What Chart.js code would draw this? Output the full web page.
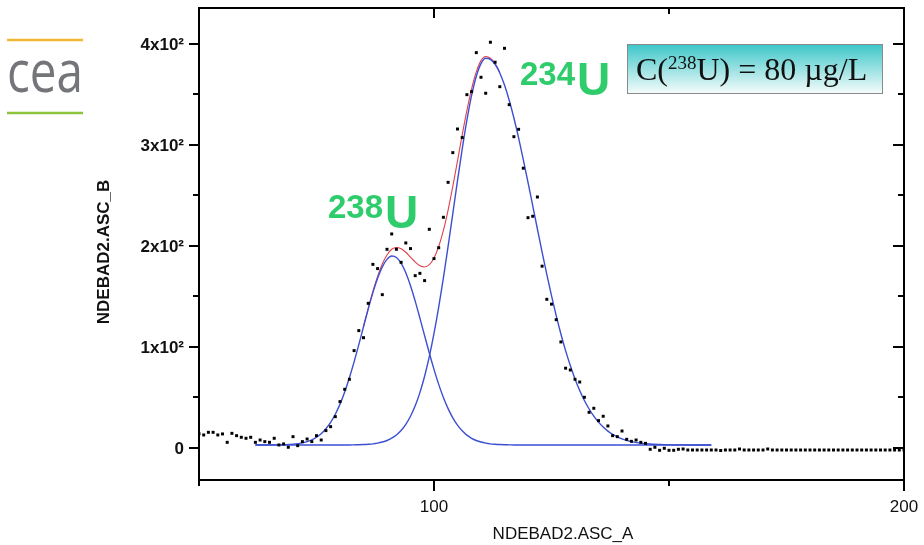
<!DOCTYPE html>
<html><head><meta charset="utf-8">
<script src="https://cdn.jsdelivr.net/npm/chart.js@4.4.0/dist/chart.umd.min.js"></script>
<style>html,body{margin:0;padding:0;background:#fff;}#wrap{width:924px;height:545px;}</style>
</head><body><div id="wrap"><canvas id="c" width="924" height="545"></canvas></div>
<script>
// ---- data ----
const channelStart = 50; // first channel of NDEBAD2.ASC_A
const counts = [
 14,12.9,15.5,15.5,12.9,13.9,5.6,14.5,12.2,10.6,
 9.6,10.6,5.6,7.9,6.3,5.6,9.6,3.0,4.0,0.7,
 11.2,2.3,6.3,8.9,6.3,12.2,7.9,17.2,21.1,31.0,
 45.9,58.1,68.0,96.4,116.2,109.2,143.2,181.8,177.6,151.8,
 196.7,211.9,196.7,183.8,203,197.4,170.6,172.9,165.7,216.5,
 187.5,198.3,228.4,263.0,292.4,315.8,307.3,349.8,352.8,391.4,
 367.0,351.2,401.7,381.9,357.7,395.7,339.9,308.2,315.5,277,
 228,229.4,248.5,180,147.2,142.4,127,105,79,77.2,
 68,65.3,50.2,35.3,39.3,27.1,31.4,21.8,12.2,11.2,
 16.8,8.6,6.6,7.9,5.6,4.6,-1.3,0.7,-2.3,-0.3,
 -2.3,-2.3,-1.3,-1,-2,-2,-2,-2,-2,-2,
 -2,-2.5,-2,-2,-2,-1,-2,-2,-2,-2,
 -2,-1,-2,-2,-2,-2,-2,-2,-2,-2,
 -2,-2,-2,-2,-2,-2,-2,-2,-2,-2,
 -2,-2,-2,-2,-2,-2,-2,-2,-2,-2,
 -2
];
const fitX = [62,66,70,72,
 74,75,76,77,78,79,80,81,82,83,
 84,85,86,87,88,89,90,91,92,93,
 94,95,96,97,98,99,100,101,102,103,
 104,105,106,107,108,109,110,111,112,113,
 114,115,116,117,118,119,120,121,122,123,
 124,125,126,127,128,129,130,131,132,133,
 134,135,136,137,138,139,140,
 142,144,146,149,152,159];
const fit238 = [3,3.1,3.8,5.1,
 8.1,10.6,14.1,19.0,25.3,33.4,43.4,55.5,69.6,85.3,
 102.3,120,137.5,153.8,168,179.3,186.7,190,188.6,183,
 173.4,160.6,145.4,128.6,111.2,94,77.8,63,50,39,
 29.9,22.6,17,12.7,9.6,7.4,5.9,4.8,4.1,3.7,
 3.4,3.2,3.1,3,3,3,3,3,3,3,
 3,3,3,3,3,3,3,3,3,3,
 3,3,3,3,3,3,3,
 3,3,3,3,3,3];
const fit234 = [3,3,3,3,
 3,3,3,3,3,3,3,3,3,3.1,
 3.2,3.4,3.7,4.1,4.8,5.9,7.4,9.7,12.9,17.3,
 23.4,31.4,41.7,54.8,71,90.5,113.4,139.5,168.4,199.6,
 232,264.6,295.9,324.5,349,368,380.6,385.8,384.8,379.9,
 371.3,359.3,344.3,326.7,307,285.5,263,240,216.8,193.9,
 171.8,150.8,131.1,112.9,96.4,81.6,68.4,57,47,38.6,
 31.5,25.6,20.7,16.7,13.6,11,9.1,
 6.3,4.8,3.9,3.3,3.1,3];
const fitSum = [3,3.1,3.8,5.1,
 8.1,10.6,14.1,19,25.3,33.4,43.4,55.5,69.6,85.4,
 102.5,120.4,138.2,154.9,169.8,182.2,191.1,196.7,198.5,197.3,
 193.8,189,184.1,180.4,179.2,181.5,188.2,199.5,215.4,235.6,
 258.9,284.2,309.9,334.2,355.6,372.4,383.5,387.6,385.9,380.6,
 371.7,359.5,344.4,326.7,307,285.5,263,240,216.8,193.9,
 171.8,150.8,131.1,112.9,96.4,81.6,68.4,57,47,38.6,
 31.5,25.6,20.7,16.7,13.6,11,9.1,
 6.3,4.8,3.9,3.3,3.1,3];
const xTickValues = [100, 200];
const xTickLabels = ['100', '200'];
const xMinorTicks = [50, 150];
const yTickValues = [0, 100, 200, 300, 400];
const yTickLabels = ['0', '1x10²', '2x10²', '3x10²', '4x10²'];
const yMinorTicks = [50, 150, 250, 350];
const xTitle = 'NDEBAD2.ASC_A';
const yTitle = 'NDEBAD2.ASC_B';
const peakLabels = [{num:'238', sym:'U'}, {num:'234', sym:'U'}];

// ---- build ----
const scatterPts = counts.map((v,i)=>({x: channelStart + i, y: v}));
const toPts = arr => arr.map((v,i)=>({x: fitX[i], y: v}));
const SANS = "'Liberation Sans', Arial, sans-serif";
const SERIF = "'Liberation Serif', 'Times New Roman', serif";
const GREEN = '#2fcc6c';
// the red sum curve is hidden where it coincides with a blue component
const sumHidden = i => Math.abs(fitSum[i] - Math.max(fit238[i], fit234[i])) < 0.6;

const decor = {
 id: 'decor',
 afterDraw(chart){
  const {ctx, chartArea:a, scales:{x, y}} = chart;
  ctx.save();
  ctx.strokeStyle = '#000'; ctx.lineWidth = 2; ctx.lineCap = 'butt';
  ctx.strokeRect(a.left, a.top, a.right - a.left, a.bottom - a.top);
  const seg = (x1,y1,x2,y2)=>{ctx.beginPath();ctx.moveTo(x1,y1);ctx.lineTo(x2,y2);ctx.stroke();};
  yTickValues.forEach(v=>{const p=Math.round(y.getPixelForValue(v)); seg(a.left-10,p,a.left,p); seg(a.right-11,p,a.right,p);});
  yMinorTicks.forEach(v=>{const p=Math.round(y.getPixelForValue(v)); seg(a.left-6,p,a.left,p); seg(a.right-6,p,a.right,p);});
  xTickValues.forEach(v=>{const p=Math.round(x.getPixelForValue(v)); seg(p,a.bottom,p,a.bottom+11); seg(p,a.top,p,a.top+10);});
  xMinorTicks.forEach(v=>{const p=Math.round(x.getPixelForValue(v)); seg(p,a.bottom,p,a.bottom+6); seg(p,a.top,p,a.top+6);});
  // tick labels
  ctx.fillStyle = '#111';
  ctx.font = 'bold 17px ' + SANS; ctx.textAlign = 'right'; ctx.textBaseline = 'middle';
  yTickValues.forEach((v,i)=>ctx.fillText(yTickLabels[i], a.left-15, y.getPixelForValue(v)+1));
  ctx.font = '17px ' + SANS; ctx.textAlign = 'center'; ctx.textBaseline = 'alphabetic';
  xTickValues.forEach((v,i)=>ctx.fillText(xTickLabels[i], x.getPixelForValue(v), a.bottom+32));
  // axis titles
  ctx.fillText(xTitle, 563, 539);
  ctx.save(); ctx.translate(104, 252); ctx.rotate(-Math.PI/2);
  ctx.font = 'bold 17px ' + SANS; ctx.textBaseline = 'middle'; ctx.fillText(yTitle, 0, 0); ctx.restore();
  // peak labels
  const pl = [{l:328, b:218, bu:228}, {l:520, b:85, bu:95}];
  peakLabels.forEach((p,i)=>{
   ctx.fillStyle = GREEN; ctx.textAlign = 'left';
   ctx.font = 'bold 33px ' + SANS; ctx.fillText(p.num, pl[i].l, pl[i].b);
   const w = ctx.measureText(p.num).width;
   ctx.font = 'bold 46px ' + SANS; ctx.fillText(p.sym, pl[i].l + w + 2, pl[i].bu);
  });
  // concentration box
  const bx=627, by=44, bw=255, bh=49;
  const g = ctx.createLinearGradient(0, by, 0, by+bh);
  g.addColorStop(0, '#3cc6c8'); g.addColorStop(1, '#f4fbfb');
  ctx.fillStyle = g; ctx.fillRect(bx, by, bw, bh);
  ctx.strokeStyle = '#8a8a8a'; ctx.lineWidth = 1; ctx.strokeRect(bx+0.5, by+0.5, bw, bh);
  ctx.fillStyle = '#111'; ctx.textAlign = 'left';
  let cx = 636;
  ctx.font = '32px ' + SERIF; ctx.fillText('C(', cx, 80); cx += ctx.measureText('C(').width;
  ctx.font = '19px ' + SERIF; ctx.fillText('238', cx, 69); cx += ctx.measureText('238').width;
  ctx.font = '32px ' + SERIF; ctx.fillText('U) = 80 µg/L', cx, 80);
  // logo
  ctx.lineWidth = 2.5;
  ctx.strokeStyle = '#f2b632'; seg(7, 40, 83, 40);
  ctx.strokeStyle = '#8cc43c'; seg(7, 113, 83, 113);
  ctx.font = "58px 'Open Sans', sans-serif"; ctx.fillStyle = '#737578';
  const lw = ctx.measureText('cea').width;
  ctx.save(); ctx.translate(7, 92); ctx.scale(76/lw, 1); ctx.fillText('cea', 0, 0); ctx.restore();
  ctx.restore();
 }
};

new Chart(document.getElementById('c'), {
 type: 'scatter',
 data: { datasets: [
  {label:'data', data: scatterPts, pointStyle:'rect', pointRadius:2.1, pointBackgroundColor:'#000', pointBorderWidth:0, showLine:false},
  {label:'238U fit', data: toPts(fit238), showLine:true, borderColor:'#3c4fd2', borderWidth:1.4, pointRadius:0, cubicInterpolationMode:'monotone'},
  {label:'234U fit', data: toPts(fit234), showLine:true, borderColor:'#3c4fd2', borderWidth:1.4, pointRadius:0, cubicInterpolationMode:'monotone'},
  {label:'sum', data: toPts(fitSum), showLine:true, borderColor:'#e0404c', borderWidth:1.1, pointRadius:0, cubicInterpolationMode:'monotone',
   segment:{borderColor: c => (sumHidden(c.p0DataIndex) && sumHidden(c.p1DataIndex)) ? 'rgba(0,0,0,0)' : '#e0404c'}}
 ]},
 options: {
  responsive:false, animation:false, devicePixelRatio:1,
  layout:{padding:{top:8, right:20, left:0, bottom:0}},
  plugins:{legend:{display:false}, tooltip:{enabled:false}},
  scales:{
   x:{type:'linear', min:50, max:200, ticks:{display:false}, grid:{display:false}, border:{display:false}, afterFit(s){s.height=65;}},
   y:{type:'linear', min:-31.7, max:435.6, ticks:{display:false}, grid:{display:false}, border:{display:false}, afterFit(s){s.width=199;}}
  }
 },
 plugins:[decor]
});
</script></body></html>
